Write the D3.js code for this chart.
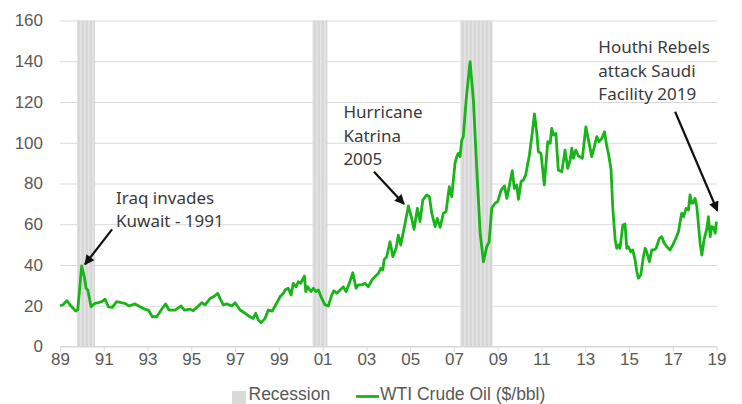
<!DOCTYPE html>
<html><head><meta charset="utf-8">
<script src="https://cdn.jsdelivr.net/npm/d3@7"></script>
<style>
html,body{margin:0;padding:0;background:#fff;}
svg{display:block;}
</style></head>
<body>
<svg id="chart" width="742" height="404"></svg>
<script>
// ---- data ----
const years = [1989.00,1989.14,1989.31,1989.46,1989.72,1989.81,1989.99,1990.11,1990.19,1990.27,1990.42,1990.60,1990.75,1990.91,1991.06,1991.21,1991.39,1991.59,1991.79,1991.97,1992.15,1992.43,1992.66,1992.88,1993.04,1993.22,1993.42,1993.62,1993.83,1993.98,1994.26,1994.53,1994.68,1994.94,1995.09,1995.32,1995.48,1995.63,1995.86,1996.01,1996.21,1996.31,1996.46,1996.62,1996.85,1997.00,1997.23,1997.46,1997.68,1997.83,1997.94,1998.06,1998.19,1998.37,1998.52,1998.70,1998.90,1999.05,1999.21,1999.28,1999.43,1999.56,1999.66,1999.79,1999.89,2000.00,2000.07,2000.17,2000.23,2000.32,2000.47,2000.58,2000.70,2000.81,2000.96,2001.11,2001.26,2001.42,2001.52,2001.65,2001.80,2001.95,2002.07,2002.22,2002.38,2002.53,2002.63,2002.79,2002.94,2003.09,2003.25,2003.40,2003.55,2003.66,2003.75,2003.81,2003.93,2004.08,2004.21,2004.36,2004.46,2004.57,2004.77,2004.92,2005.07,2005.18,2005.33,2005.45,2005.58,2005.76,2005.88,2005.99,2006.14,2006.24,2006.37,2006.52,2006.64,2006.79,2006.90,2007.05,2007.13,2007.20,2007.28,2007.36,2007.43,2007.56,2007.74,2007.89,2008.04,2008.20,2008.35,2008.50,2008.61,2008.73,2008.88,2009.00,2009.16,2009.31,2009.42,2009.57,2009.67,2009.76,2009.87,2009.95,2010.07,2010.17,2010.28,2010.38,2010.45,2010.56,2010.68,2010.79,2010.86,2010.98,2011.13,2011.29,2011.40,2011.47,2011.55,2011.66,2011.77,2011.93,2012.08,2012.20,2012.31,2012.39,2012.46,2012.57,2012.69,2012.87,2013.03,2013.18,2013.30,2013.42,2013.53,2013.63,2013.76,2013.88,2013.99,2014.06,2014.18,2014.26,2014.37,2014.44,2014.52,2014.59,2014.72,2014.82,2014.90,2014.97,2015.08,2015.17,2015.28,2015.36,2015.43,2015.54,2015.66,2015.74,2015.81,2015.93,2016.04,2016.15,2016.24,2016.39,2016.50,2016.61,2016.73,2016.88,2017.00,2017.11,2017.26,2017.34,2017.41,2017.49,2017.61,2017.72,2017.79,2017.87,2017.94,2018.02,2018.10,2018.17,2018.25,2018.33,2018.43,2018.56,2018.63,2018.71,2018.78,2018.86,2018.94,2019.00];
const wti = [20.0,20.5,22.5,20.4,17.4,18.0,39.5,34.3,28.6,27.7,19.5,21.2,21.5,22.0,23.2,19.5,19.2,22.0,21.5,21.2,19.9,20.9,19.5,18.3,17.9,14.6,14.6,17.9,20.9,17.9,17.9,19.9,17.9,18.3,17.6,19.9,21.5,20.4,23.6,24.4,26.1,23.6,20.4,20.9,19.9,21.5,17.9,16.3,14.6,13.8,16.3,13.0,11.7,13.8,17.9,17.4,21.2,24.4,26.1,27.7,28.6,25.3,31.0,29.3,31.8,31.0,32.6,34.6,26.9,29.3,27.0,28.6,26.9,27.7,23.6,20.4,19.9,25.3,27.4,26.1,27.7,29.3,26.9,31.0,36.2,28.6,30.2,30.2,31.0,29.3,32.6,34.3,35.9,38.4,37.5,42.5,44.1,51.4,44.1,48.2,54.7,49.8,60.5,69.0,62.9,57.5,67.8,61.3,71.9,74.4,73.5,65.4,58.8,62.9,58.5,65.4,66.2,78.4,73.5,89.9,93.2,94.8,93.2,101.3,103.0,121.0,139.8,121.0,88.3,55.6,41.6,49.0,51.4,68.0,70.3,71.1,76.8,78.8,72.7,81.0,86.3,77.6,79.3,72.2,81.0,81.7,84.2,89.9,94.0,103.0,114.1,104.6,95.6,94.8,79.3,100.5,99.7,107.1,103.8,104.6,86.6,85.8,96.4,87.4,91.5,97.3,92.4,96.4,93.5,92.4,107.8,99.7,93.2,98.1,103.0,100.5,102.2,105.4,98.1,94.8,87.0,68.0,52.3,48.2,49.8,48.2,59.6,60.1,48.2,49.0,46.5,47.4,42.5,36.7,33.5,35.1,44.1,48.2,46.5,41.6,47.4,47.4,48.2,53.1,53.9,50.7,49.0,47.4,49.8,52.3,56.3,61.3,65.4,63.7,67.8,67.0,74.4,70.3,70.5,72.7,68.6,60.5,50.7,44.9,52.3,58.0,63.7,53.9,58.8,58.5,55.6,61.3,62.9];
const recessionStart = [1989.78, 2000.54, 2007.29];
const recessionEnd   = [1990.60, 2001.22, 2008.77];
const xTickYears  = [1989,1991,1993,1995,1997,1999,2001,2003,2005,2007,2009,2011,2013,2015,2017,2019];
const xTickLabels = ["89","91","93","95","97","99","01","03","05","07","09","11","13","15","17","19"];
const yTickValues = [0,20,40,60,80,100,120,140,160];
const annoText  = [["Iraq invades","Kuwait - 1991"],["Hurricane","Katrina","2005"],["Houthi Rebels","attack Saudi","Facility 2019"]];
const annoTextX = [1991.56, 2001.95, 2013.60];
const annoTextY = [73.5, 115.6, 147.5];
const arrowFromX = [1991.38, 2003.35, 2017.11];
const arrowFromY = [57.5, 85.8, 115.2];
const arrowToX   = [1990.14, 2004.72, 2019.04];
const arrowToY   = [40.3, 69.9, 66.6];
const legendLabels = ["Recession","WTI Crude Oil ($/bbl)"];

// ---- drawing ----
const svg = d3.select("#chart");
const x = d3.scaleLinear().domain([1989, 2019]).range([60, 716.5]);
const y = d3.scaleLinear().domain([0, 160]).range([346.5, 20.5]);
const left = 60, right = 717;
const GREEN = "#19b419";
const GRID = "#d9d9d9";

const defs = svg.append("defs");
const pat = defs.append("pattern").attr("id","stripes").attr("patternUnits","userSpaceOnUse")
  .attr("width",4).attr("height",10);
pat.append("rect").attr("width",4).attr("height",10).attr("fill","#d7d7d7");
pat.append("rect").attr("x",0).attr("width",1.6).attr("height",10).attr("fill","#e4e4e4");
defs.append("marker").attr("id","arrow").attr("viewBox","0 0 10 10")
  .attr("refX",9).attr("refY",5).attr("markerWidth",12).attr("markerHeight",10)
  .attr("markerUnits","userSpaceOnUse").attr("orient","auto")
  .append("path").attr("d","M0,0 L10,5 L0,10 z").attr("fill","#111");

// gridlines + y labels
const yAxis = d3.axisLeft(y).tickValues(yTickValues).tickSize(-(right-left)).tickPadding(17);
const gy = svg.append("g").attr("transform",`translate(${left},0)`).call(yAxis);
gy.select(".domain").remove();
gy.selectAll(".tick line").attr("stroke",GRID).attr("stroke-width",1);
gy.selectAll(".tick text").attr("fill","#595959").attr("font-family","'Liberation Sans', Arial, sans-serif").attr("font-size",17);

// recession bands
svg.append("g").selectAll("rect").data(recessionStart).join("rect")
  .attr("x",(d)=>x(d)).attr("width",(d,i)=>x(recessionEnd[i])-x(d))
  .attr("y",y(160)).attr("height",y(0)-y(160)).attr("fill","url(#stripes)");

// x axis
const xAxis = d3.axisBottom(x).tickValues(xTickYears).tickFormat((d,i)=>xTickLabels[i]).tickSize(5).tickPadding(1).tickSizeOuter(0);
const gx = svg.append("g").attr("transform",`translate(0,${y(0)})`).call(xAxis);
gx.select(".domain").attr("stroke",GRID).attr("d",`M${left},0H${right}`);
gx.selectAll(".tick line").attr("stroke",GRID);
gx.selectAll(".tick text").attr("fill","#595959").attr("font-family","'Liberation Sans', Arial, sans-serif").attr("font-size",17);

// line
const line = d3.line().x((d,i)=>x(years[i])).y(d=>y(d));
svg.append("path").datum(wti).attr("d",line).attr("fill","none")
  .attr("stroke",GREEN).attr("stroke-width",2.8).attr("stroke-linejoin","round");

// annotations
const ag = svg.append("g");
annoText.forEach((lines,i)=>{
  const t = ag.append("text").attr("x",x(annoTextX[i])).attr("y",y(annoTextY[i]))
    .attr("font-family","'Noto Sans', sans-serif").attr("font-size",17).attr("fill","#3a3a3a")
    .attr("dominant-baseline","central");
  lines.forEach((s,j)=>t.append("tspan").attr("x",x(annoTextX[i])).attr("dy",j===0?0:23.6).text(s));
  ag.append("line").attr("x1",x(arrowFromX[i])).attr("y1",y(arrowFromY[i]))
    .attr("x2",x(arrowToX[i])).attr("y2",y(arrowToY[i]))
    .attr("stroke","#111").attr("stroke-width",2.2).attr("marker-end","url(#arrow)");
});

// legend
const lg = svg.append("g").attr("font-family","'Liberation Sans', Arial, sans-serif").attr("font-size",17.5).attr("fill","#595959");
lg.append("rect").attr("x",232).attr("y",391).attr("width",14).attr("height",13).attr("fill","#d9d9d9");
lg.append("text").attr("x",248.5).attr("y",399.5).text(legendLabels[0]);
lg.append("line").attr("x1",356).attr("x2",379).attr("y1",396.5).attr("y2",396.5).attr("stroke",GREEN).attr("stroke-width",2.8);
lg.append("text").attr("x",380).attr("y",399.5).text(legendLabels[1]);
</script>
</body></html>
